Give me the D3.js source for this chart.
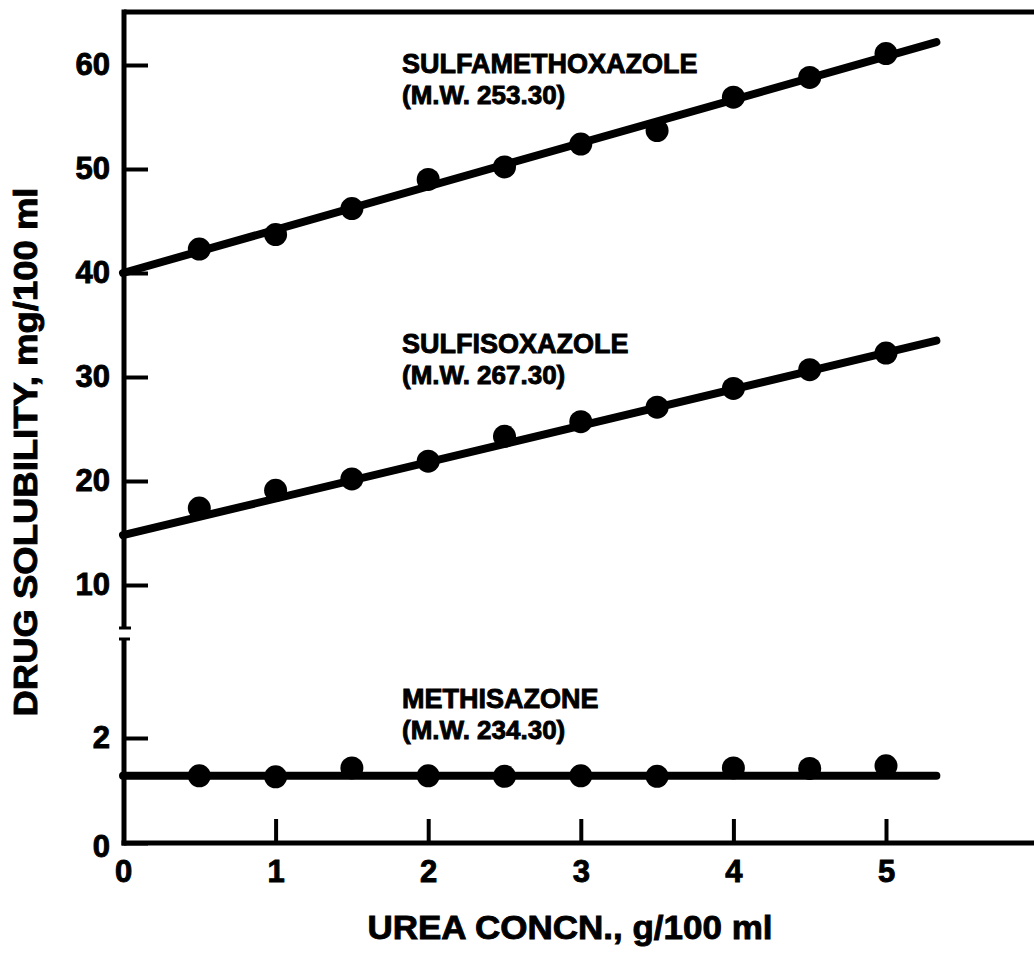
<!DOCTYPE html>
<html>
<head>
<meta charset="utf-8">
<script src="https://cdn.jsdelivr.net/npm/d3@7"></script>
<style>
  html, body { margin: 0; padding: 0; background: #fff; }
  svg { display: block; }
  text { font-family: "Liberation Sans", Arial, Helvetica, sans-serif; font-weight: bold; fill: #000; stroke: #000; stroke-width: 0.9px; paint-order: stroke; }
</style>
</head>
<body>
<script>
// ---- data ----
const ureaConc = [0.5, 1, 1.5, 2, 2.5, 3, 3.5, 4, 4.5, 5];
const sulfamethoxazole = [42.3, 43.7, 46.2, 49.0, 50.2, 52.4, 53.7, 56.9, 58.8, 61.1];
const sulfisoxazole = [17.4, 19.1, 20.2, 21.9, 24.3, 25.7, 27.1, 28.9, 30.7, 32.3];
const methisazone = [1.28, 1.26, 1.43, 1.28, 1.27, 1.28, 1.27, 1.43, 1.42, 1.47];
const fitX = [0, 5.33];
const fitSulfamethoxazole = [40.0, 62.2];
const fitSulfisoxazole = [14.8, 33.5];
const fitMethisazone = [1.28, 1.28];
const xTicks = [0, 1, 2, 3, 4, 5];
const yUpperTicks = [10, 20, 30, 40, 50, 60];
const yLowerTicks = [0, 2];
const labels = [
  { name: "SULFAMETHOXAZOLE", mw: "(M.W. 253.30)", y: 59.2, panel: "upper" },
  { name: "SULFISOXAZOLE", mw: "(M.W. 267.30)", y: 32.3, panel: "upper" },
  { name: "METHISAZONE", mw: "(M.W. 234.30)", y: 2.57, panel: "lower" }
];
const xTitle = "UREA CONCN., g/100 ml";
const yTitle = "DRUG SOLUBILITY, mg/100 ml";

// ---- layout ----
const W = 1034, H = 960;
const svg = d3.select("body").append("svg").attr("width", W).attr("height", H);
svg.append("rect").attr("width", W).attr("height", H).attr("fill", "#fff");

const x = d3.scaleLinear().domain([0, 5]).range([123, 886]);
const yU = d3.scaleLinear().domain([10, 60]).range([585, 65]);
const yL = d3.scaleLinear().domain([0, 2]).range([843, 738]);

const axisX = x(0) + 1;
const topY = 12;
const breakUpper = 628, breakLower = 639;

// frame / axes
const frame = svg.append("g").attr("stroke", "#000").attr("stroke-width", 5).attr("fill", "none");
frame.append("line").attr("x1", axisX).attr("x2", W + 5).attr("y1", topY).attr("y2", topY);
frame.append("line").attr("x1", axisX).attr("x2", axisX).attr("y1", topY - 2.5).attr("y2", breakUpper);
frame.append("line").attr("x1", axisX).attr("x2", axisX).attr("y1", breakLower).attr("y2", yL(0) + 2.5);
frame.append("line").attr("x1", axisX - 2.5).attr("x2", W + 5).attr("y1", yL(0)).attr("y2", yL(0));
// break caps
frame.append("line").attr("x1", axisX - 5).attr("x2", axisX + 7).attr("y1", breakUpper).attr("y2", breakUpper).attr("stroke-width", 3);
frame.append("line").attr("x1", axisX - 5).attr("x2", axisX + 6).attr("y1", breakLower).attr("y2", breakLower).attr("stroke-width", 3);

// axes via d3
function styleAxis(g) {
  g.select(".domain").remove();
  g.selectAll(".tick line").attr("stroke", "#000").attr("stroke-width", 4);
  g.selectAll(".tick text").style("font-size", "31px").attr("fill", "#000");
}
svg.append("g").attr("transform", `translate(${axisX},0)`)
  .call(d3.axisLeft(yU).tickValues(yUpperTicks).tickFormat(d3.format("d")).tickSize(-24).tickPadding(14))
  .call(styleAxis);
svg.append("g").attr("transform", `translate(${axisX},0)`)
  .call(d3.axisLeft(yL).tickValues(yLowerTicks).tickFormat(d3.format("d")).tickSize(-24).tickPadding(14))
  .call(styleAxis)
  .call(g => g.selectAll(".tick").filter(d => d === 0).select("text").attr("dy", "0.45em"));
svg.append("g").attr("transform", `translate(0,${yL(0)})`)
  .call(d3.axisBottom(x).tickValues(xTicks).tickFormat(d3.format("d")).tickSize(-24).tickPadding(17))
  .call(styleAxis)
  .call(g => g.selectAll(".tick").filter(d => d === 0).select("line").remove());

// series
const series = [
  { vals: sulfamethoxazole, fit: fitSulfamethoxazole, y: yU },
  { vals: sulfisoxazole, fit: fitSulfisoxazole, y: yU },
  { vals: methisazone, fit: fitMethisazone, y: yL }
];
series.forEach(s => {
  const line = d3.line().x((d, i) => x(fitX[i])).y(d => s.y(d));
  svg.append("path").datum(s.fit).attr("d", line)
    .attr("fill", "none").attr("stroke", "#000").attr("stroke-width", 8).attr("stroke-linecap", "round");
  svg.append("g").selectAll("circle").data(s.vals).join("circle")
    .attr("cx", (d, i) => x(ureaConc[i])).attr("cy", d => s.y(d)).attr("r", 11.5).attr("fill", "#000");
});

// annotations
labels.forEach(l => {
  const yS = l.panel === "upper" ? yU : yL;
  const g = svg.append("g").attr("transform", `translate(402,${yS(l.y)})`);
  g.append("text").attr("x", 0).attr("y", 0).style("font-size", "27px").text(l.name);
  g.append("text").attr("x", 0).attr("y", 31).style("font-size", "26px").text(l.mw);
});

// axis titles
svg.append("text").attr("x", 570).attr("y", 939).attr("text-anchor", "middle")
  .style("font-size", "34px").attr("textLength", 405).attr("lengthAdjust", "spacingAndGlyphs").text(xTitle);
svg.append("text").attr("transform", "translate(37,452) rotate(-90)").attr("text-anchor", "middle")
  .style("font-size", "34px").attr("textLength", 529).attr("lengthAdjust", "spacingAndGlyphs").text(yTitle);
</script>
</body>
</html>
